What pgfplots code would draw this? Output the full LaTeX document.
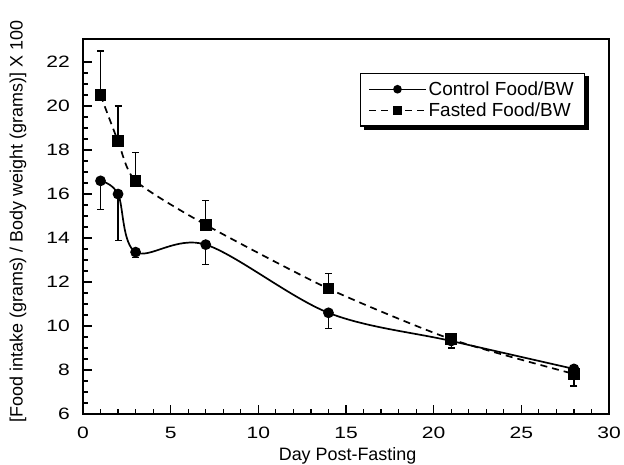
\documentclass[border=0pt]{standalone}
\usepackage{fontspec}
\setmainfont{Liberation Sans}
\newfontfamily\tickfont{Liberation Sans}[FakeStretch=1.28]
\usepackage{pgfplots}
\pgfplotsset{compat=1.18}
\usetikzlibrary{backgrounds}
\begin{document}
\begin{tikzpicture}[x=1bp,y=1bp]
\useasboundingbox (-83,-51) rectangle (541,414);
\begin{axis}[
  at={(0,0)}, anchor=south west,
  scale only axis, width=526bp, height=375bp,
  xmin=0, xmax=30, ymin=6, ymax=23.05,
  xtick={0,5,...,30}, ytick={6,8,...,22},
  minor x tick num=4, minor y tick num=3,
  tick pos=left, tick align=inside,
  major tick length=9bp, minor tick length=5bp,
  axis line style={line width=1.4bp},
  every tick/.style={line width=1.2bp, black},
  /pgf/number format/assume math mode=true,
  tick label style={font=\tickfont\fontsize{16.5}{19}\selectfont},
  xticklabel style={anchor=base, yshift=-25bp},
  yticklabel style={anchor=east, inner xsep=0pt, xshift=-13bp},
  label style={font=\fontsize{18}{21}\selectfont},
  xlabel={Day Post-Fasting},
  ylabel={[Food intake (grams) / Body weight (grams)] X 100},
  xlabel style={at={(axis description cs:0.503,-0.1253)}, anchor=base},
  ylabel style={at={(axis description cs:-0.1236,0.513)}, anchor=center},
  legend style={name=leg, at={(1,1)}, anchor=north east, xshift=-24bp, yshift=-34bp,
    draw=black, line width=1.3bp, fill=white,
    font=\fontsize{19}{23}\selectfont, inner xsep=8bp, inner ysep=6bp, row sep=2bp,
    nodes={inner xsep=2.5bp}},
  legend cell align=left,
  legend image code/.code={\draw[mark repeat=2, mark phase=2, line width=1.4bp, #1, every mark/.append style={scale=0.8}] plot coordinates {(0bp,0bp) (28bp,0bp) (56bp,0bp)};},
]
\addplot[black, line width=1.7bp, smooth, tension=0.55, mark=*, mark size=4.5bp,
  error bars/.cd, y dir=minus, y explicit, error mark options={rotate=90, mark size=3.5bp, line width=1.3bp}, error bar style={line width=1.3bp, solid}]
  table[x=x, y=y, y error minus=e] {
  x y e
  1 16.6 1.3
  2 16.0 2.1
  3 13.36 0.25
  7 13.7 0.9
  14 10.6 0.7
  21 9.32 0.32
  28 8.05 0.78
};
\addlegendentry{Control Food/BW}
\addplot[black, line width=1.7bp, dash pattern=on 7bp off 5bp, smooth, tension=0.4, mark=square*, mark size=5bp, mark options={solid},
  error bars/.cd, y dir=plus, y explicit, error mark options={rotate=90, mark size=3.5bp, line width=1.3bp, solid}, error bar style={line width=1.3bp, solid}]
  table[x=x, y=y, y error plus=e] {
  x y e
  1 20.5 2.0
  2 18.4 1.6
  3 16.6 1.3
  7 14.6 1.1
  14 11.7 0.7
  21 9.4 0.1
  28 7.82 0.1
};
\addlegendentry{Fasted Food/BW}
\end{axis}
\begin{scope}[on background layer]
\fill[black] ([shift={(3.5bp,-3.5bp)}]leg.south west) rectangle ([shift={(3.5bp,-3.5bp)}]leg.north east);
\end{scope}
\end{tikzpicture}
\end{document}
